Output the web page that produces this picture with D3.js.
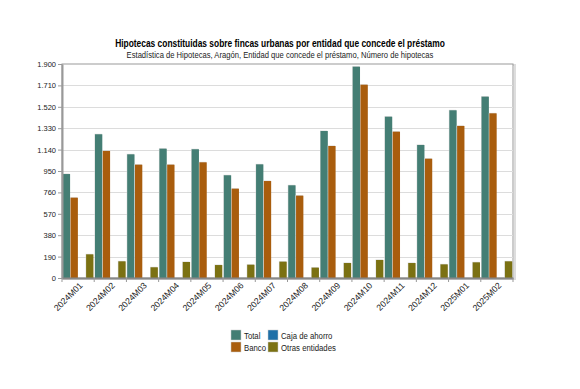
<!DOCTYPE html>
<html><head><meta charset="utf-8">
<script src="https://cdn.jsdelivr.net/npm/d3@7"></script>
<style>body{margin:0;background:#fff;} svg text{font-family:"Liberation Sans",Arial,sans-serif;}</style>
</head><body><svg id="c" width="580" height="389"></svg>
<script>
const categories = ["2024M01","2024M02","2024M03","2024M04","2024M05","2024M06","2024M07","2024M08","2024M09","2024M10","2024M11","2024M12","2025M01","2025M02"];
const seriesNames = ["Total","Banco","Caja de ahorro","Otras entidades"];
const total = [923,1276,1098,1148,1143,912,1009,823,1305,1876,1432,1181,1489,1610];
const banco = [713,1128,1006,1006,1027,793,861,731,1172,1716,1299,1059,1350,1462];
const caja = [0,0,0,0,0,0,0,0,0,0,0,0,0,0];
const otras = [210,148,95,142,115,118,145,92,133,160,133,121,139,148];
const yTicks = [0,190,380,570,760,950,1140,1330,1520,1710,1900];
const colors = ["#447e74","#a95d0d","#1f70a8","#7b7112"];

const svg = d3.select("#c");
const L=62,R=513,T=64,B=278;
const x = d3.scaleBand().domain(categories).range([L,R]).paddingInner(0).paddingOuter(0);
const x1 = d3.scaleBand().domain(seriesNames).range([0,x.bandwidth()]).paddingInner(0.06).paddingOuter(0.1);
const y = d3.scaleLinear().domain([0,1900]).range([B,T]);
const fmt = d => d3.format(",")(d).replace(/,/g,".");
const SX = 0.82;

svg.append("text").attr("transform",`translate(280,47) scale(0.8,1)`).attr("text-anchor","middle").attr("font-size",10.5).attr("font-weight","bold").text("Hipotecas constituidas sobre fincas urbanas por entidad que concede el préstamo");
svg.append("text").attr("transform",`translate(280,58) scale(${SX},1)`).attr("text-anchor","middle").attr("font-size",9.3).attr("fill","#222").text("Estadística de Hipotecas, Aragón, Entidad que concede el préstamo, Número de hipotecas");

// frame shadow
svg.append("rect").attr("x",L+1).attr("y",T+1).attr("width",R-L+1).attr("height",B-T).attr("fill","none").attr("stroke","#ddd").attr("stroke-width",2);
svg.append("rect").attr("x",L).attr("y",T).attr("width",R-L).attr("height",B-T).attr("fill","#fff").attr("stroke","#999").attr("stroke-width",1);

// grid
svg.append("g").selectAll("line").data(yTicks.slice(1,-1)).join("line")
  .attr("x1",L).attr("x2",R).attr("y1",d=>Math.round(y(d))+0.5).attr("y2",d=>Math.round(y(d))+0.5)
  .attr("stroke","#dcdcdc").attr("stroke-width",1);

const data = [total,banco,caja,otras];
const g = svg.append("g");
categories.forEach((c,i)=>{
  seriesNames.forEach((s,j)=>{
    const v = data[j][i];
    if(v<=0) return;
    const bx = x(c)+x1(s), bw = x1.bandwidth();
    g.append("rect").attr("x",bx-0.5).attr("y",y(v)-0.5).attr("width",bw).attr("height",B-y(v)).attr("fill","#d8d8d8");
    g.append("rect").attr("x",bx).attr("y",y(v)).attr("width",bw).attr("height",B-y(v)).attr("fill",colors[j]);
  });
});

// axes
const ya = svg.append("g").attr("transform",`translate(${L},0)`).call(d3.axisLeft(y).tickValues(yTicks).tickFormat(fmt).tickSize(4).tickSizeOuter(0));
ya.select(".domain").attr("stroke","#999").attr("stroke-width",2);
ya.selectAll(".tick line").attr("stroke","#999");
ya.selectAll("text").attr("font-size",7.5).attr("fill","#222").attr("x",-6);

const xa = svg.append("g").attr("transform",`translate(0,${B})`).call(d3.axisBottom(x).tickSize(4).tickSizeOuter(0).tickFormat(""));
xa.select(".domain").attr("stroke","#888").attr("stroke-width",2);
xa.selectAll(".tick line").attr("stroke","#999").attr("transform",`translate(${-x.bandwidth()/2},0)`);
svg.append("line").attr("x1",R).attr("x2",R).attr("y1",B).attr("y2",B+4).attr("stroke","#999");

svg.append("g").selectAll("text").data(categories).join("text")
  .attr("transform",d=>`translate(${x(d)+x.bandwidth()/2+5},${B+8}) rotate(-45)`)
  .attr("text-anchor","end").attr("font-size",8.7).attr("fill","#222").text(d=>d);

// legend
const leg = [{n:"Total",c:colors[0],x:231,y:330},{n:"Caja de ahorro",c:colors[2],x:268,y:330},{n:"Banco",c:colors[1],x:231,y:342},{n:"Otras entidades",c:colors[3],x:268,y:342}];
const lg = svg.append("g");
leg.forEach(d=>{
  lg.append("rect").attr("x",d.x).attr("y",d.y).attr("width",10).attr("height",10).attr("fill",d.c).attr("stroke","#ccc").attr("stroke-width",0.5);
  lg.append("text").attr("transform",`translate(${d.x+13},${d.y+9}) scale(${SX},1)`).attr("font-size",9.5).attr("fill","#222").text(d.n);
});
</script></body></html>
